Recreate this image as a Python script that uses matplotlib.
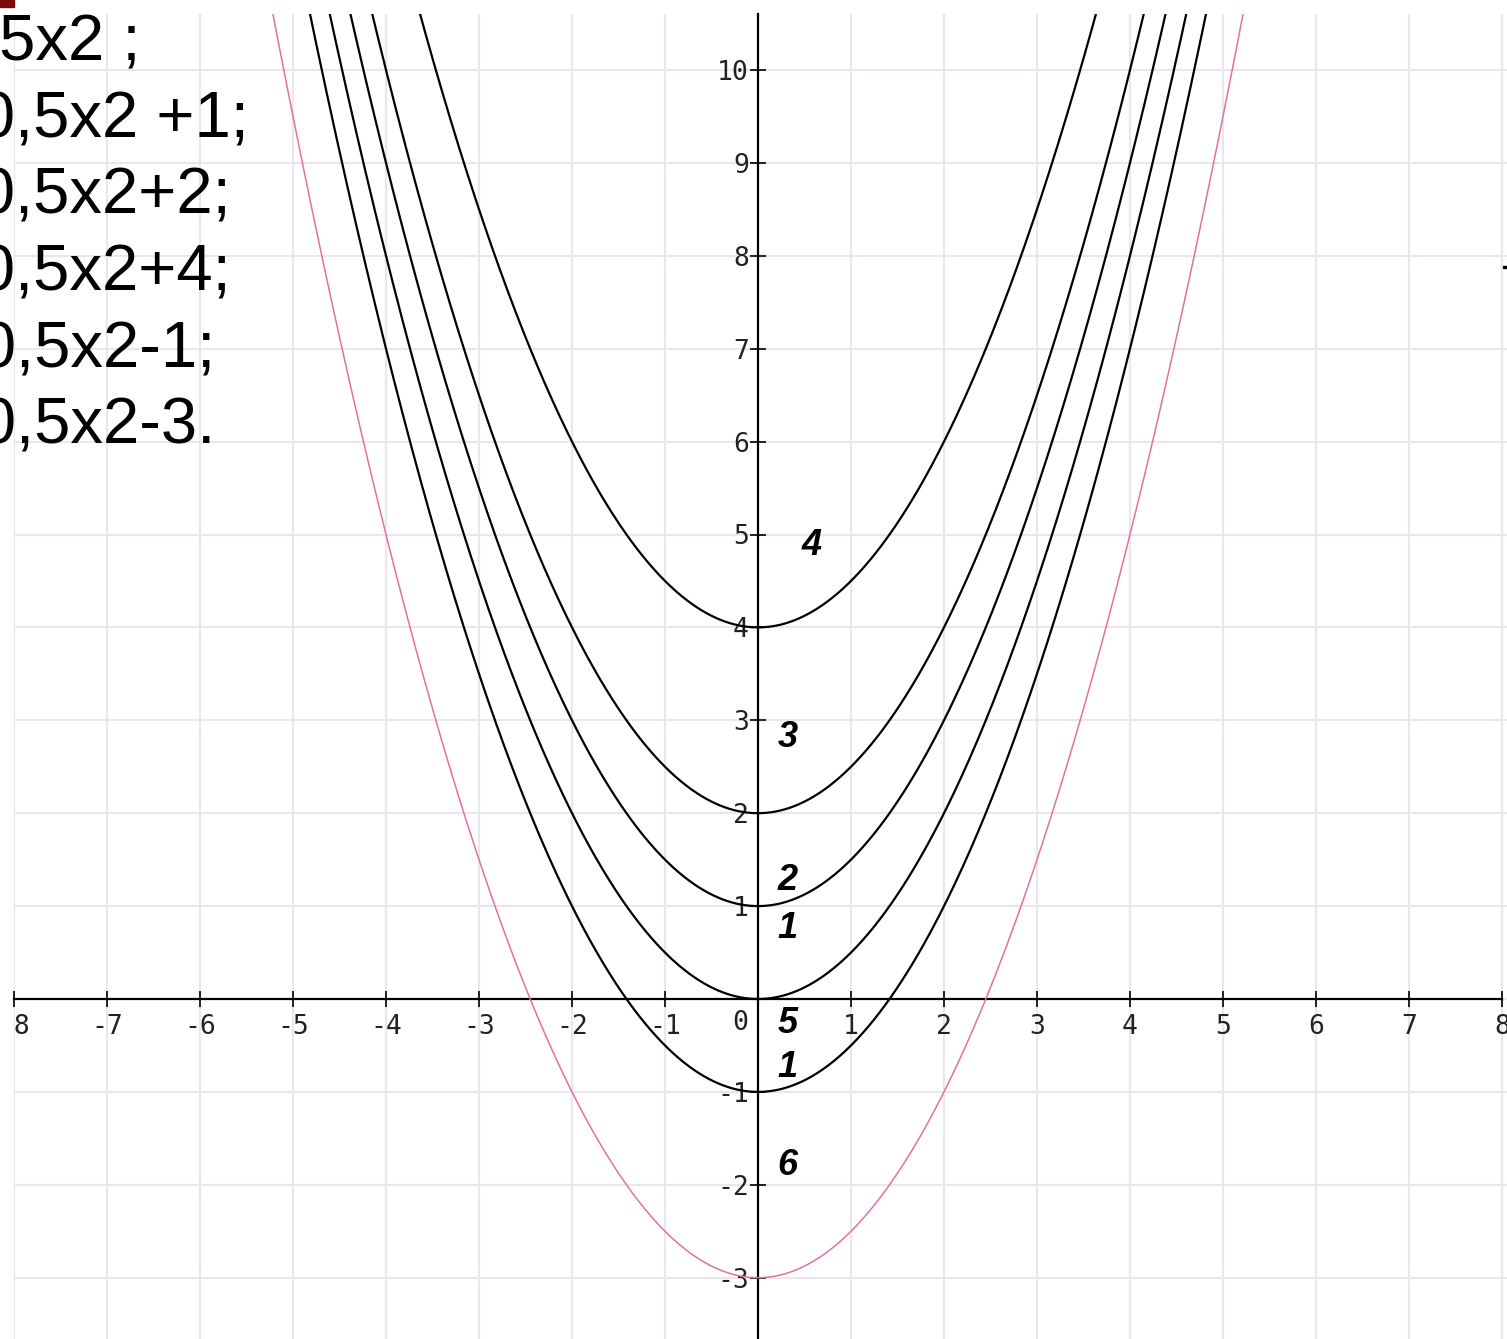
import numpy as np
import matplotlib
matplotlib.use("Agg")
import matplotlib.pyplot as plt

plt.rcParams["axes.unicode_minus"] = False

# parabolas y = a*x^2 + c
a = 0.5
shifts_black = [0, 1, 2, 4, -1]
shift_pink = -3

xticks = [-8, -7, -6, -5, -4, -3, -2, -1, 1, 2, 3, 4, 5, 6, 7, 8]
yticks = [-3, -2, -1, 1, 2, 3, 4, 5, 6, 7, 8, 9, 10]

formulas = ["у=0,5x2 ;", "у=0,5x2 +1;", "у=0,5x2+2;",
            "у=0,5x2+4;", "у=0,5x2-1;", "у=0,5x2-3."]
formula_right = [141, 249, 232, 232, 216, 216]  # px
formula_base = [60, 137, 213, 290, 367, 443]    # px

curve_labels = ["4", "3", "2", "1", "5", "1", "6"]
label_pos = [(0.58, 4.88), (0.32, 2.82), (0.32, 1.28), (0.32, 0.76),
             (0.32, -0.26), (0.32, -0.74), (0.32, -1.79)]

W, H = 1507, 1339
fig = plt.figure(figsize=(W / 100, H / 100), dpi=100)
fig.patch.set_facecolor("white")
ax = fig.add_axes([14 / W, 0, (W - 14) / W, (H - 14) / H])
ax.set_xlim(-8, -8 + (W - 14) / 93)
ax.set_ylim((999 - H) / 92.9, (999 - 14) / 92.9)

# grid
for gx in range(-8, 9):
    ax.axvline(gx, color="#e9e5f1", lw=1.5, zorder=0)
for gy in range(-3, 11):
    ax.axhline(gy, color="#e9e5f1", lw=1.5, zorder=0)

# axes through origin
for s in ["top", "right"]:
    ax.spines[s].set_visible(False)
ax.spines["left"].set_position(("data", 0))
ax.spines["bottom"].set_position(("data", 0))
ax.spines["left"].set_linewidth(1.6)
ax.spines["bottom"].set_linewidth(1.6)
ax.spines["bottom"].set_bounds(-8, 8)

ax.set_xticks(xticks)
ax.set_yticks(yticks)
ax.tick_params(direction="inout", length=11, width=1.2, colors="black",
               labelcolor="#222222", labelsize=19)
ax.tick_params(axis="x", pad=5)
ax.tick_params(axis="y", pad=1)
for lbl in ax.get_xticklabels() + ax.get_yticklabels():
    lbl.set_family("DejaVu Sans Mono")
for lbl in ax.get_xticklabels():
    lbl.set_clip_on(True)
    lbl.set_clip_box(ax.bbox)
ax.text(-0.19, -0.12, "0", ha="center", va="top", fontsize=19,
        family="DejaVu Sans Mono", color="#222222")

x = np.linspace(-8, 8, 1601)
for c in shifts_black:
    ax.plot(x, a * x ** 2 + c, color="black", lw=1.6, zorder=3)
ax.plot(x, a * x ** 2 + shift_pink, color="#e0729f", lw=1.1, zorder=3)

for t, (px, py) in zip(curve_labels, label_pos):
    ax.text(px, py, t, ha="center", va="center", fontsize=26,
            family="Liberation Sans", weight="bold", style="italic",
            color="black", zorder=5)

for t, r, b in zip(formulas, formula_right, formula_base):
    fig.text(r / W, 1 - b / H, t, ha="right", va="baseline", fontsize=47,
             family="Liberation Sans", color="black")

# small marks at the edges
fig.patches.append(plt.Rectangle((0, 1 - 7 / H), 14 / W, 7 / H,
                                 transform=fig.transFigure, color="#7a0a0a"))
fig.patches.append(plt.Rectangle((1503 / W, 1 - 268 / H), 4 / W, 2 / H,
                                 transform=fig.transFigure, color="black"))

fig.savefig("out.png", dpi=100)
